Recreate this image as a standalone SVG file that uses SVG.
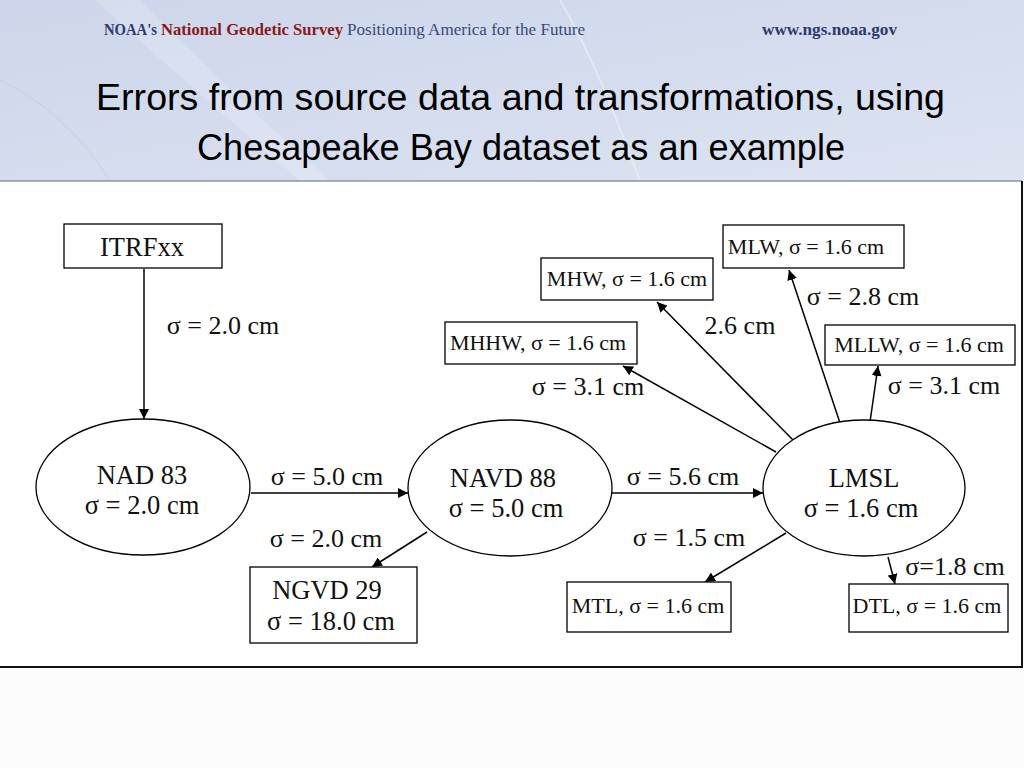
<svg xmlns="http://www.w3.org/2000/svg" width="1024" height="768" viewBox="0 0 1024 768">
<defs>
<linearGradient id="hdr" x1="0" y1="0" x2="1" y2="1">
<stop offset="0" stop-color="#cdd6ea"/>
<stop offset="0.5" stop-color="#d4dcee"/>
<stop offset="1" stop-color="#dde3f1"/>
</linearGradient>
<marker id="ah" viewBox="0 0 10 10" refX="10" refY="5" markerWidth="10" markerHeight="10" markerUnits="userSpaceOnUse" orient="auto">
<path d="M0,0 L10,5 L0,10 Z" fill="#000"/>
</marker>
<style>
.n{fill:#fff;stroke:#000;stroke-width:1.3}
.t{font-family:"Liberation Serif","Times New Roman",serif;fill:#111;text-anchor:middle}
.big{font-size:26.5px}
.lbl{font-size:26px}
.sm{font-size:22px}
.e{stroke:#000;stroke-width:1.5;fill:none;marker-end:url(#ah)}
</style>
</defs>
<rect width="1024" height="768" fill="#fcfcfc"/>
<rect width="1024" height="181" fill="url(#hdr)"/>
<path d="M95,0 C160,60 230,120 300,181 L330,181 C260,120 200,60 140,0 Z" fill="#ffffff" opacity="0.18"/>
<path d="M560,0 C600,70 620,130 640,181" stroke="#ffffff" stroke-opacity="0.35" stroke-width="2" fill="none"/>
<path d="M0,80 C60,110 90,150 110,181" stroke="#b9c3dd" stroke-opacity="0.5" stroke-width="1" fill="none"/>
<g id="header">
<text x="104" y="35" font-family="Liberation Serif,serif" font-size="16" font-weight="bold" fill="#2d3a6b" textLength="53" lengthAdjust="spacingAndGlyphs">NOAA's</text>
<text x="161" y="35" font-family="Liberation Serif,serif" font-size="16" font-weight="bold" fill="#8b1a1a" textLength="182" lengthAdjust="spacingAndGlyphs">National Geodetic Survey</text>
<text x="347" y="35" font-family="Liberation Serif,serif" font-size="16" fill="#3a4a7a" textLength="238" lengthAdjust="spacingAndGlyphs">Positioning America for the Future</text>
<text x="762" y="35" font-family="Liberation Serif,serif" font-size="16" font-weight="bold" fill="#2d3a6b" textLength="135" lengthAdjust="spacingAndGlyphs">www.ngs.noaa.gov</text>
</g>
<g id="title">
<text x="96" y="110" font-family="Liberation Sans,Arial,sans-serif" font-size="37" fill="#000" textLength="849" lengthAdjust="spacingAndGlyphs">Errors from source data and transformations, using</text>
<text x="197" y="160" font-family="Liberation Sans,Arial,sans-serif" font-size="37" fill="#000" textLength="648" lengthAdjust="spacingAndGlyphs">Chesapeake Bay dataset as an example</text>
</g>
<rect x="0" y="181" width="1022" height="486" fill="#fff"/>
<line x1="0" y1="181" x2="1022" y2="181" stroke="#666" stroke-width="1.2"/>
<line x1="1022" y1="181" x2="1022" y2="667" stroke="#111" stroke-width="2"/>
<line x1="0" y1="667" x2="1023" y2="667" stroke="#111" stroke-width="2"/>
<g id="connectors">
<line class="e" x1="144" y1="269" x2="144" y2="419"/>
<line class="e" x1="251" y1="493" x2="408" y2="493"/>
<line class="e" x1="612" y1="493" x2="763" y2="493"/>
<line class="e" x1="427" y1="532" x2="372" y2="567"/>
<line class="e" x1="786" y1="533" x2="705" y2="582"/>
<line class="e" x1="888" y1="557" x2="895" y2="584"/>
<line class="e" x1="870" y1="422" x2="878" y2="366"/>
<line class="e" x1="840" y1="423" x2="789" y2="270"/>
<line class="e" x1="794" y1="441" x2="657" y2="302"/>
<line class="e" x1="776" y1="452" x2="623" y2="366"/>
<text class="t lbl" x="223" y="334">σ = 2.0 cm</text>
<text class="t lbl" x="327" y="485">σ = 5.0 cm</text>
<text class="t lbl" x="683" y="485">σ = 5.6 cm</text>
<text class="t lbl" x="326" y="547">σ = 2.0 cm</text>
<text class="t lbl" x="689" y="546">σ = 1.5 cm</text>
<text class="t lbl" x="955" y="575">σ=1.8 cm</text>
<text class="t lbl" x="944" y="394">σ = 3.1 cm</text>
<text class="t lbl" x="863" y="305">σ = 2.8 cm</text>
<text class="t lbl" x="740" y="334">2.6 cm</text>
<text class="t lbl" x="588" y="395">σ = 3.1 cm</text>
</g>
<g id="itrf"><rect class="n" x="64" y="224" width="158" height="44"/><text class="t big" x="142" y="256">ITRFxx</text></g>
<g id="nad83"><ellipse class="n" cx="143" cy="487" rx="107" ry="68"/><text class="t big" x="142" y="484">NAD 83</text><text class="t big" x="142" y="514">σ = 2.0 cm</text></g>
<g id="navd88"><ellipse class="n" cx="510" cy="488" rx="102" ry="68"/><text class="t big" x="503" y="487">NAVD 88</text><text class="t big" x="506" y="517">σ = 5.0 cm</text></g>
<g id="lmsl"><ellipse class="n" cx="864" cy="488" rx="101" ry="68"/><text class="t big" x="864" y="487">LMSL</text><text class="t big" x="861" y="517">σ = 1.6 cm</text></g>
<g id="ngvd29"><rect class="n" x="250" y="567" width="167" height="76"/><text class="t big" x="327" y="599">NGVD 29</text><text class="t big" x="331" y="630">σ = 18.0 cm</text></g>
<g id="mtl"><rect class="n" x="567" y="582" width="164" height="50"/><text class="t sm" x="648" y="613">MTL, σ = 1.6 cm</text></g>
<g id="dtl"><rect class="n" x="849" y="584" width="159" height="48"/><text class="t sm" x="927" y="613">DTL, σ = 1.6 cm</text></g>
<g id="mllw"><rect class="n" x="825" y="325" width="190" height="40"/><text class="t sm" x="919" y="352">MLLW, σ = 1.6 cm</text></g>
<g id="mlw"><rect class="n" x="723" y="225" width="181" height="43"/><text class="t sm" x="806" y="254">MLW, σ = 1.6 cm</text></g>
<g id="mhw"><rect class="n" x="541" y="258" width="172" height="42"/><text class="t sm" x="627" y="286">MHW, σ = 1.6 cm</text></g>
<g id="mhhw"><rect class="n" x="445" y="322" width="192" height="42"/><text class="t sm" x="538" y="350">MHHW, σ = 1.6 cm</text></g>
</svg>
